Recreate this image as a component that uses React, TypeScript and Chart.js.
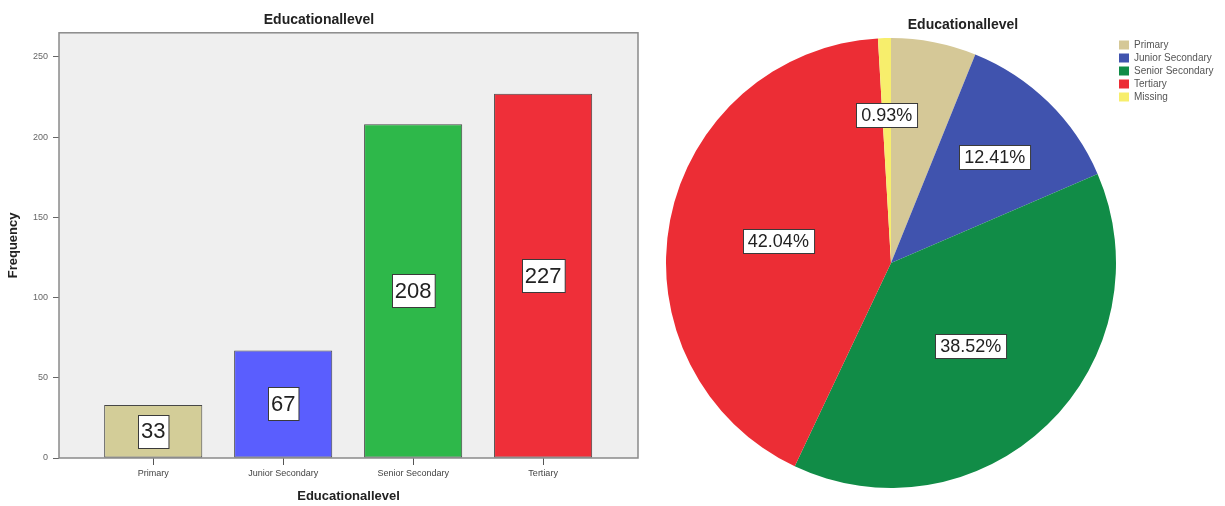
import React, { useEffect, useRef } from 'react';
import { Chart, registerables } from 'chart.js';

Chart.register(...registerables);

// ---- data ----
const chartTitle = 'Educationallevel';
const yTitle = 'Frequency';
const categories = ['Primary', 'Junior Secondary', 'Senior Secondary', 'Tertiary'];
const frequencies = [33, 67, 208, 227];
const barColors = ['#d3cd98', '#5a5efe', '#2eb84a', '#ef2f39'];
const yTicks = [0, 50, 100, 150, 200, 250];
const yMax = 265;

const pieCategories = ['Primary', 'Junior Secondary', 'Senior Secondary', 'Tertiary', 'Missing'];
const pieCounts = [33, 67, 208, 227, 5];
const pieColors = ['#d5c897', '#4053ae', '#118c47', '#ec2d35', '#f7ee6c'];
const pieLabelShown = [false, true, true, true, true];

const FONT = "'Liberation Sans', Arial, sans-serif";

function drawLabelBox(ctx: CanvasRenderingContext2D, text: string, cx: number, cy: number, size: number, padX: number, h: number) {
  ctx.save();
  ctx.font = `${size}px ${FONT}`;
  const tw = ctx.measureText(text).width;
  const w = tw + padX * 2;
  const x = Math.round(cx - w / 2) + 0.5;
  const y = Math.round(cy - h / 2) + 0.5;
  ctx.fillStyle = '#ffffff';
  ctx.fillRect(x, y, w, h);
  ctx.strokeStyle = '#3a3a3a';
  ctx.lineWidth = 1;
  ctx.strokeRect(x, y, w, h);
  ctx.fillStyle = '#222222';
  ctx.textAlign = 'center';
  ctx.textBaseline = 'middle';
  ctx.fillText(text, cx, cy + 1);
  ctx.restore();
}

const framePlugin = {
  id: 'frame',
  beforeDatasetsDraw(chart: any) {
    const { ctx, chartArea: a } = chart;
    ctx.save();
    ctx.fillStyle = '#efefef';
    ctx.fillRect(a.left, a.top, a.right - a.left, a.bottom - a.top);
    ctx.strokeStyle = '#8a8a8a';
    ctx.lineWidth = 1.5;
    ctx.strokeRect(a.left, a.top, a.right - a.left, a.bottom - a.top);
    ctx.restore();
  },
};

const barLabelPlugin = {
  id: 'barLabels',
  afterDatasetsDraw(chart: any) {
    const { ctx } = chart;
    const meta = chart.getDatasetMeta(0);
    meta.data.forEach((bar: any, i: number) => {
      const { x, y, base } = bar.getProps(['x', 'y', 'base'], true);
      drawLabelBox(ctx, String(frequencies[i]), x, (y + base) / 2, 22, 3, 33);
    });
  },
};

const pieLabelPlugin = {
  id: 'pieLabels',
  afterDatasetsDraw(chart: any) {
    const { ctx } = chart;
    const meta = chart.getDatasetMeta(0);
    const total = pieCounts.reduce((s, v) => s + v, 0);
    meta.data.forEach((arc: any, i: number) => {
      if (!pieLabelShown[i]) return;
      const { x, y, startAngle, endAngle, outerRadius } = arc.getProps(
        ['x', 'y', 'startAngle', 'endAngle', 'outerRadius'],
        true
      );
      const share = pieCounts[i] / total;
      const mid = (startAngle + endAngle) / 2;
      const frac = share > 0.25 ? 0.51 : 0.66;
      const px = x + Math.cos(mid) * outerRadius * frac;
      const py = y + Math.sin(mid) * outerRadius * frac;
      const text = ((pieCounts[i] / total) * 100).toFixed(2) + '%';
      drawLabelBox(ctx, text, px, py, 18, 5, 24);
    });
  },
};

const pieTitlePlugin = {
  id: 'pieTitle',
  afterDraw(chart: any) {
    const { ctx, chartArea: a } = chart;
    ctx.save();
    ctx.font = `bold 14px ${FONT}`;
    ctx.fillStyle = '#222222';
    ctx.textAlign = 'center';
    ctx.textBaseline = 'middle';
    ctx.fillText(chartTitle, a.left + (a.right - a.left) * 0.66, a.top - 12);
    ctx.restore();
  },
};

export default function App() {
  const barRef = useRef<HTMLCanvasElement>(null);
  const pieRef = useRef<HTMLCanvasElement>(null);

  useEffect(() => {
    Chart.defaults.font.family = FONT;

    const bar = new Chart(barRef.current as HTMLCanvasElement, {
      type: 'bar',
      data: {
        datasets: [
          {
            data: categories.map((_, i) => ({ x: i, y: frequencies[i] })) as any,
            backgroundColor: barColors,
            borderColor: '#474747',
            borderWidth: 1,
            borderSkipped: false,
            categoryPercentage: 1,
            barPercentage: 0.755,
          },
        ],
      },
      options: {
        responsive: false,
        animation: false,
        layout: { padding: { left: 0, right: 2, top: 0, bottom: 0 } },
        plugins: {
          legend: { display: false },
          tooltip: { enabled: false },
          title: {
            display: true,
            text: chartTitle,
            color: '#222222',
            font: { size: 14, weight: 'bold', family: FONT },
            padding: { top: 12, bottom: 4 },
          },
        },
        scales: {
          x: {
            type: 'linear',
            min: -0.725,
            max: 3.73,
            offset: false,
            grid: {
              display: true,
              drawOnChartArea: false,
              drawTicks: true,
              tickLength: 7,
              color: '#555555',
              tickColor: '#555555',
              offset: false,
            },
            border: { display: false },
            afterBuildTicks: (s: any) => {
              s.ticks = categories.map((_, i) => ({ value: i }));
            },
            ticks: {
              autoSkip: false,
              maxRotation: 0,
              font: { size: 9 },
              color: '#444444',
              padding: 3,
              callback: (v: any) => categories[v] ?? '',
            },
            title: {
              display: true,
              text: chartTitle,
              color: '#222222',
              font: { size: 13, weight: 'bold' },
              padding: { top: 0, bottom: 2 },
            },
            afterFit: (s: any) => {
              s.height = 48;
            },
          } as any,
          y: {
            min: 0,
            max: yMax,
            grid: {
              display: true,
              drawOnChartArea: false,
              drawTicks: true,
              tickLength: 6,
              color: '#666666',
              tickColor: '#666666',
            },
            border: { display: false },
            afterBuildTicks: (s: any) => {
              s.ticks = yTicks.map((v) => ({ value: v }));
            },
            ticks: { font: { size: 9 }, color: '#666666', padding: 5 },
            title: {
              display: true,
              text: yTitle,
              color: '#222222',
              font: { size: 13, weight: 'bold' },
              padding: { top: 6, bottom: 0 },
            },
            afterFit: (s: any) => {
              s.width = 59;
            },
          } as any,
        },
      },
      plugins: [framePlugin, barLabelPlugin],
    });

    const pie = new Chart(pieRef.current as HTMLCanvasElement, {
      type: 'pie',
      data: {
        labels: pieCategories,
        datasets: [
          {
            data: pieCounts,
            backgroundColor: pieColors,
            borderWidth: 0,
          },
        ],
      },
      options: {
        responsive: false,
        animation: false,
        layout: { padding: { left: 26, right: 9, top: 37, bottom: 17 } },
        plugins: {
          tooltip: { enabled: false },
          title: { display: false },
          legend: {
            position: 'right',
            align: 'start',
            fullSize: false,
            maxWidth: 100,
            labels: {
              boxWidth: 10,
              boxHeight: 9,
              padding: 3,
              color: '#555555',
              font: { size: 10 },
            },
          },
        },
      } as any,
      plugins: [pieLabelPlugin, pieTitlePlugin],
    });

    return () => {
      bar.destroy();
      pie.destroy();
    };
  }, []);

  return (
    <div
      style={{
        position: 'absolute',
        left: 0,
        top: 0,
        width: 1225,
        height: 506,
        background: '#ffffff',
        overflow: 'hidden',
      }}
    >
      <canvas ref={barRef} width={640} height={506} style={{ position: 'absolute', left: 0, top: 0 }} />
      <canvas ref={pieRef} width={585} height={506} style={{ position: 'absolute', left: 640, top: 0 }} />
    </div>
  );
}
